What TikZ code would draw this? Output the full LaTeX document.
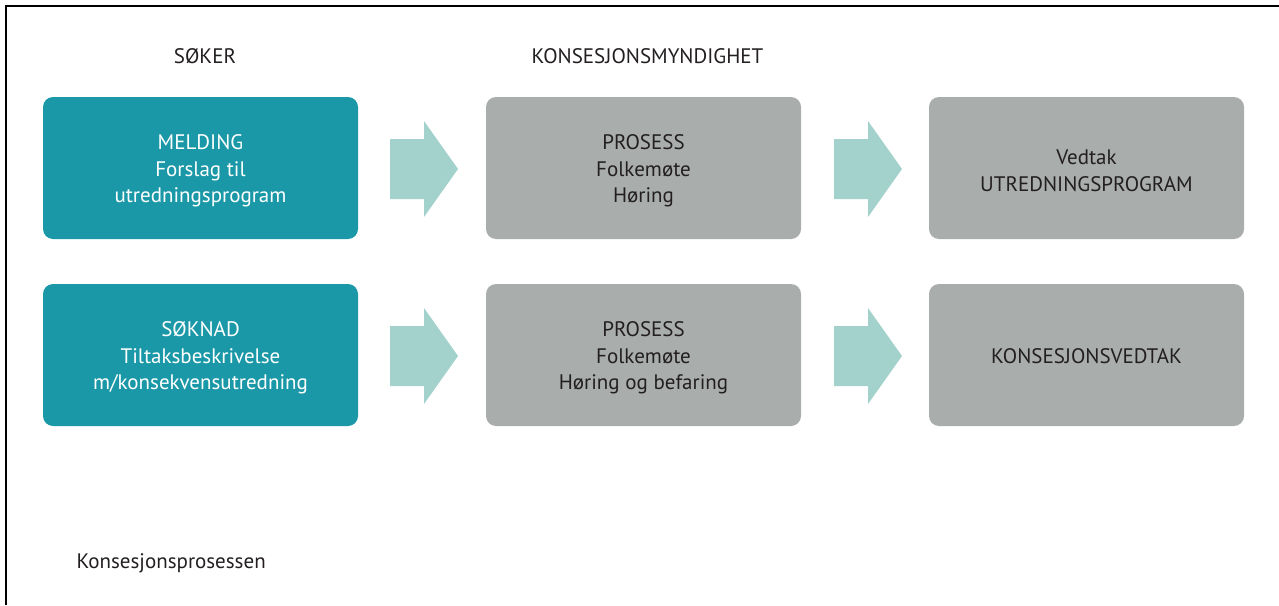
\documentclass[tikz,border=0pt]{standalone}
\usepackage{fontspec}
\setmainfont{PT Sans}
\definecolor{teal1}{RGB}{27,152,168}
\definecolor{gray1}{RGB}{169,173,172}
\definecolor{arr}{RGB}{163,209,203}
\definecolor{txt}{RGB}{35,31,32}
\begin{document}
\begin{tikzpicture}[x=1pt,y=-1pt,
  box/.style={rounded corners=10pt,minimum width=315pt,minimum height=142pt,inner sep=0pt},
  btext/.style={align=center,inner sep=0pt,font=\fontsize{21}{26.5}\selectfont,yshift=-3pt},
  sbox/.style={box,fill=teal1},
  gbox/.style={box,fill=gray1},
  stext/.style={btext,text=white},
  gtext/.style={btext,text=txt},
  head/.style={text=txt,font=\fontsize{21}{25}\selectfont},
  fatarrow/.style={fill=arr,draw=none}]
\useasboundingbox (0,0) rectangle (1279,605);
\draw[line width=2pt,black] (6,605) -- (6,6) -- (1279,6);
\node[head] (h1) at (205,56) {SØKER};
\node[head,anchor=west] (h2) at (528,56) {KONSESJONSMYNDIGHET};
\node[head,anchor=west] (cap) at (73,563) {Konsesjonsprosessen};
\node[sbox,label={[stext]center:MELDING\\Forslag til\\utredningsprogram}] (a1) at (200.5,168) {};
\node[gbox,label={[gtext]center:PROSESS\\Folkemøte\\Høring}] (b1) at (643.5,168) {};
\node[gbox,label={[gtext]center:Vedtak\\UTREDNINGSPROGRAM}] (c1) at (1086.5,168) {};
\node[sbox,label={[stext]center:SØKNAD\\Tiltaksbeskrivelse\\m/konsekvensutredning}] (a2) at (200.5,355) {};
\node[gbox,label={[gtext]center:PROSESS\\Folkemøte\\Høring og befaring}] (b2) at (643.5,355) {};
\node[gbox,label={[gtext,yshift=2pt]center:KONSESJONSVEDTAK}] (c2) at (1086.5,355) {};
\foreach \xx/\yy in {390/169, 834/169, 390/356, 834/356}{
  \fill[fatarrow] (\xx,\yy-30) -- (\xx+34,\yy-30) -- (\xx+34,\yy-48) -- (\xx+68,\yy)
    -- (\xx+34,\yy+48) -- (\xx+34,\yy+30) -- (\xx,\yy+30) -- cycle;
}
\end{tikzpicture}
\end{document}
